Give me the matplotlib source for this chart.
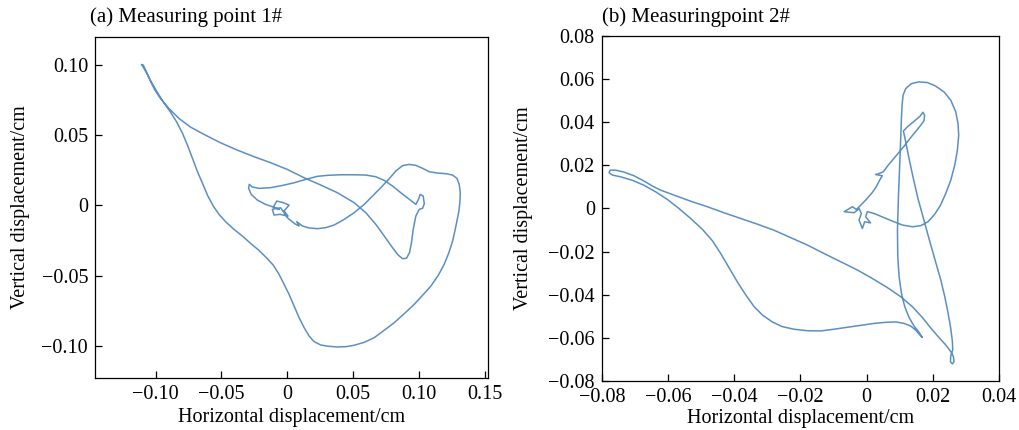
import matplotlib
matplotlib.use('Agg')
import matplotlib.pyplot as plt

plt.rcParams['font.family'] = ['Liberation Serif', 'DejaVu Serif']
plt.rcParams['axes.unicode_minus'] = True

# (a) Measuring point 1# : trajectory
x1 = [-0.0063, -0.0106, -0.0081, -0.0030, 0.0013, -0.0025, 0.0005, -0.0056, -0.0101, -0.0114,
      -0.0051, 0.0000, 0.0056, 0.0089, 0.0071, 0.0114, 0.0165, 0.0228, 0.0291, 0.0355,
      0.0431, 0.0507, 0.0583, 0.0646, 0.0709, 0.0773, 0.0823, 0.0874, 0.0925, 0.0975,
      0.1026, 0.1076, 0.1140, 0.1203, 0.1254, 0.1287, 0.1304, 0.1312, 0.1310, 0.1302,
      0.1292, 0.1274, 0.1254, 0.1226, 0.1190, 0.1145, 0.1089, 0.1026, 0.0963, 0.0887,
      0.0811, 0.0735, 0.0659, 0.0583, 0.0507, 0.0443, 0.0380, 0.0309, 0.0253, 0.0203,
      0.0165, 0.0127, 0.0089, 0.0051, 0.0013, -0.0025, -0.0063, -0.0106, -0.0152, -0.0215,
      -0.0279, -0.0342, -0.0405, -0.0469, -0.0519, -0.0562, -0.0603, -0.0641, -0.0684, -0.0722,
      -0.0760, -0.0798, -0.0841, -0.0887, -0.0937, -0.0988, -0.1033, -0.1074, -0.1099, -0.1107,
      -0.1094, -0.1069, -0.1039, -0.1008, -0.0963, -0.0899, -0.0823, -0.0735, -0.0633, -0.0507,
      -0.0380, -0.0253, -0.0127, 0.0000, 0.0127, 0.0253, 0.0380, 0.0507, 0.0595, 0.0671,
      0.0735, 0.0798, 0.0841, 0.0874, 0.0904, 0.0927, 0.0942, 0.0955, 0.0975, 0.1001,
      0.1026, 0.1039, 0.1031, 0.1008, 0.0995, 0.0975, 0.0925, 0.0861, 0.0798, 0.0735,
      0.0671, 0.0595, 0.0507, 0.0405, 0.0304, 0.0228, 0.0139, 0.0051, -0.0038, -0.0127,
      -0.0215, -0.0266, -0.0289, -0.0294, -0.0274, -0.0228, -0.0165, -0.0106, -0.0063]
y1 = [-0.0028, -0.0012, 0.0031, 0.0019, 0.0002, -0.0040, -0.0076, -0.0064, -0.0069, -0.0028,
      -0.0017, -0.0088, -0.0131, -0.0147, -0.0116, -0.0147, -0.0161, -0.0166, -0.0159, -0.0140,
      -0.0100, -0.0052, 0.0007, 0.0066, 0.0126, 0.0190, 0.0245, 0.0283, 0.0292, 0.0285,
      0.0264, 0.0240, 0.0230, 0.0226, 0.0216, 0.0192, 0.0150, 0.0090, 0.0031, -0.0040,
      -0.0088, -0.0171, -0.0254, -0.0337, -0.0420, -0.0499, -0.0575, -0.0641, -0.0705, -0.0772,
      -0.0836, -0.0890, -0.0943, -0.0976, -0.0997, -0.1007, -0.1009, -0.1004, -0.0995, -0.0971,
      -0.0931, -0.0871, -0.0800, -0.0717, -0.0634, -0.0563, -0.0491, -0.0427, -0.0380, -0.0321,
      -0.0271, -0.0218, -0.0171, -0.0116, -0.0064, -0.0005, 0.0066, 0.0150, 0.0245, 0.0340,
      0.0434, 0.0518, 0.0596, 0.0665, 0.0731, 0.0807, 0.0881, 0.0952, 0.0995, 0.1004,
      0.1000, 0.0952, 0.0886, 0.0826, 0.0762, 0.0691, 0.0620, 0.0558, 0.0506, 0.0446,
      0.0394, 0.0347, 0.0304, 0.0256, 0.0197, 0.0145, 0.0090, 0.0019, -0.0052, -0.0135,
      -0.0218, -0.0302, -0.0354, -0.0380, -0.0377, -0.0337, -0.0266, -0.0171, -0.0076, -0.0028,
      -0.0021, 0.0012, 0.0066, 0.0078, 0.0043, 0.0007, 0.0043, 0.0090, 0.0138, 0.0178,
      0.0204, 0.0216, 0.0218, 0.0218, 0.0214, 0.0207, 0.0185, 0.0161, 0.0142, 0.0126,
      0.0121, 0.0131, 0.0150, 0.0121, 0.0078, 0.0038, 0.0007, -0.0012, -0.0028]

# (b) Measuring point 2#
x2 = [-0.0028, -0.0043, -0.0068, -0.0038, -0.0023, -0.0016, -0.0023, -0.0013, -0.0006, 0.0012,
      -0.0003, 0.0002, 0.0022, 0.0047, 0.0078, 0.0108, 0.0138, 0.0163, 0.0185, 0.0205,
      0.0223, 0.0239, 0.0254, 0.0266, 0.0274, 0.0278, 0.0276, 0.0269, 0.0254, 0.0234,
      0.0208, 0.0183, 0.0158, 0.0135, 0.0118, 0.0110, 0.0107, 0.0105, 0.0103, 0.0100,
      0.0096, 0.0093, 0.0094, 0.0098, 0.0105, 0.0115, 0.0128, 0.0143, 0.0158, 0.0168,
      0.0161, 0.0148, 0.0133, 0.0113, 0.0088, 0.0057, 0.0022, -0.0018, -0.0058, -0.0099,
      -0.0139, -0.0179, -0.0219, -0.0255, -0.0285, -0.0315, -0.0340, -0.0365, -0.0391, -0.0416,
      -0.0441, -0.0466, -0.0496, -0.0532, -0.0567, -0.0602, -0.0637, -0.0673, -0.0708, -0.0743,
      -0.0768, -0.0778, -0.0775, -0.0758, -0.0733, -0.0703, -0.0673, -0.0647, -0.0622, -0.0582,
      -0.0532, -0.0481, -0.0431, -0.0381, -0.0330, -0.0280, -0.0230, -0.0179, -0.0129, -0.0079,
      -0.0028, 0.0017, 0.0062, 0.0103, 0.0138, 0.0168, 0.0193, 0.0218, 0.0239, 0.0254,
      0.0262, 0.0264, 0.0259, 0.0253, 0.0254, 0.0260, 0.0259, 0.0254, 0.0246, 0.0236,
      0.0224, 0.0208, 0.0191, 0.0173, 0.0155, 0.0141, 0.0128, 0.0118, 0.0111, 0.0123,
      0.0143, 0.0161, 0.0170, 0.0175, 0.0173, 0.0158, 0.0135, 0.0113, 0.0088, 0.0065,
      0.0050, 0.0032, 0.0027, 0.0047, 0.0039, 0.0029, 0.0015, -0.0003, -0.0018, -0.0028]
y2 = [-0.0008, 0.0008, -0.0015, -0.0020, 0.0000, -0.0023, -0.0054, -0.0093, -0.0062, -0.0067,
      -0.0039, -0.0015, -0.0023, -0.0039, -0.0059, -0.0077, -0.0085, -0.0080, -0.0062, -0.0028,
      0.0015, 0.0070, 0.0131, 0.0201, 0.0271, 0.0340, 0.0394, 0.0449, 0.0503, 0.0541,
      0.0569, 0.0585, 0.0588, 0.0580, 0.0557, 0.0526, 0.0480, 0.0418, 0.0333, 0.0209,
      0.0054, -0.0101, -0.0224, -0.0317, -0.0394, -0.0456, -0.0506, -0.0546, -0.0575, -0.0599,
      -0.0588, -0.0565, -0.0546, -0.0534, -0.0527, -0.0529, -0.0534, -0.0543, -0.0552, -0.0561,
      -0.0569, -0.0568, -0.0561, -0.0549, -0.0527, -0.0495, -0.0456, -0.0402, -0.0340, -0.0275,
      -0.0209, -0.0150, -0.0097, -0.0046, 0.0000, 0.0042, 0.0077, 0.0108, 0.0131, 0.0147,
      0.0155, 0.0166, 0.0178, 0.0178, 0.0169, 0.0152, 0.0128, 0.0104, 0.0085, 0.0062,
      0.0034, 0.0008, -0.0020, -0.0046, -0.0073, -0.0101, -0.0135, -0.0170, -0.0209, -0.0247,
      -0.0286, -0.0325, -0.0367, -0.0410, -0.0456, -0.0506, -0.0554, -0.0599, -0.0634, -0.0665,
      -0.0688, -0.0712, -0.0722, -0.0712, -0.0685, -0.0657, -0.0619, -0.0557, -0.0487, -0.0410,
      -0.0333, -0.0247, -0.0155, -0.0054, 0.0046, 0.0139, 0.0232, 0.0309, 0.0360, 0.0379,
      0.0405, 0.0428, 0.0447, 0.0433, 0.0407, 0.0376, 0.0333, 0.0289, 0.0243, 0.0201,
      0.0170, 0.0159, 0.0158, 0.0152, 0.0131, 0.0101, 0.0070, 0.0039, 0.0015, 0.0000]

xticks1 = [-0.10, -0.05, 0, 0.05, 0.10, 0.15]
xlabels1 = ['\u22120.10', '\u22120.05', '0', '0.05', '0.10', '0.15']
yticks1 = [-0.10, -0.05, 0, 0.05, 0.10]
ylabels1 = ['\u22120.10', '\u22120.05', '0', '0.05', '0.10']

xticks2 = [-0.08, -0.06, -0.04, -0.02, 0, 0.02, 0.04]
xlabels2 = ['\u22120.08', '\u22120.06', '\u22120.04', '\u22120.02', '0', '0.02', '0.04']
yticks2 = [-0.08, -0.06, -0.04, -0.02, 0, 0.02, 0.04, 0.06, 0.08]
ylabels2 = ['\u22120.08', '\u22120.06', '\u22120.04', '\u22120.02', '0', '0.02', '0.04', '0.06', '0.08']

line_color = '#5b8fc4'
fs = 14.5

fig = plt.figure(figsize=(10.2, 4.3), dpi=100)
ax1 = fig.add_axes([0.0931, 0.121, 0.385, 0.793])
ax2 = fig.add_axes([0.590, 0.1147, 0.3895, 0.801])

ax1.plot(x1, y1, color=line_color, lw=1.1)
ax1.set_xlim(-0.146, 0.152)
ax1.set_ylim(-0.123, 0.120)
ax1.set_xticks(xticks1)
ax1.set_xticklabels(xlabels1)
ax1.set_yticks(yticks1)
ax1.set_yticklabels(ylabels1)

ax2.plot(x2, y2, color=line_color, lw=1.1)
ax2.set_xlim(-0.08, 0.04)
ax2.set_ylim(-0.08, 0.08)
ax2.set_xticks(xticks2)
ax2.set_xticklabels(xlabels2)
ax2.set_yticks(yticks2)
ax2.set_yticklabels(ylabels2)

for ax in (ax1, ax2):
    ax.tick_params(direction='in', length=5, width=0.9, labelsize=fs, pad=5,
                   top=False, right=False)
    for s in ax.spines.values():
        s.set_linewidth(0.9)
    ax.set_xlabel('Horizontal displacement/cm', fontsize=fs)
    ax.set_ylabel('Vertical displacement/cm', fontsize=fs)

ax1.xaxis.set_label_coords(0.5, -0.088)
ax1.yaxis.set_label_coords(-0.165, 0.5)
ax2.xaxis.set_label_coords(0.5, -0.083)
ax2.yaxis.set_label_coords(-0.172, 0.5)

fig.text(90 / 1020, 1 - 22 / 430, '(a) Measuring point 1#', fontsize=15, va='baseline')
fig.text(602 / 1020, 1 - 22 / 430, '(b) Measuringpoint 2#', fontsize=15, va='baseline')

fig.savefig('out.png', dpi=100)
